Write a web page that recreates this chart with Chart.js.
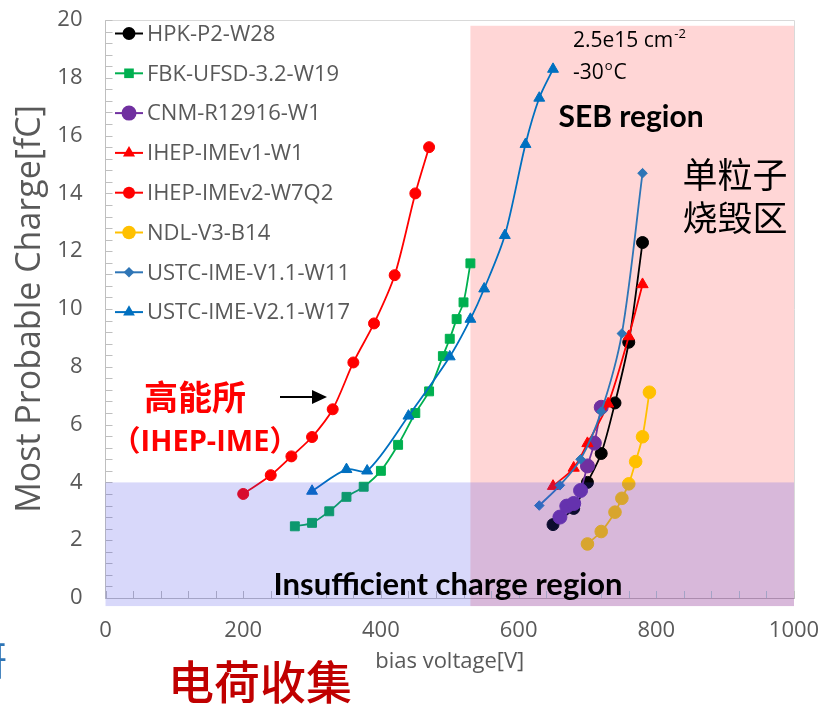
<!DOCTYPE html>
<html>
<head>
<meta charset="utf-8">
<script src="https://cdn.jsdelivr.net/npm/chart.js@4.4.1/dist/chart.umd.min.js"></script>
<style>
  html, body { margin: 0; padding: 0; background: #fff; }
  canvas { display: block; }
</style>
</head>
<body>
<canvas id="chargeChart" width="825" height="705"></canvas>
<script>
// bias voltage [V] / most probable charge [fC]
const hpkV = [650, 680, 700, 720, 740, 760, 780];
const hpkQ = [2.54, 3.1, 4.0, 5.0, 6.75, 8.85, 12.3];

const fbkV = [275, 300, 325, 350, 375, 400, 425, 450, 470, 490, 500, 510, 520, 530];
const fbkQ = [2.48, 2.6, 3.0, 3.5, 3.85, 4.4, 5.3, 6.4, 7.15, 8.37, 8.97, 9.65, 10.23, 11.58];

const cnmV = [660, 670, 680, 690, 700, 710, 720];
const cnmQ = [2.8, 3.18, 3.27, 3.72, 4.57, 5.36, 6.6];

const ihepV1V = [650, 680, 700, 730, 760, 780];
const ihepV1Q = [3.87, 4.5, 5.35, 6.72, 9.05, 10.85];

const ihepV2V = [200, 240, 270, 300, 330, 360, 390, 420, 450, 470];
const ihepV2Q = [3.6, 4.25, 4.9, 5.57, 6.53, 8.15, 9.5, 11.17, 14.0, 15.6];

const ndlV = [700, 720, 740, 750, 760, 770, 780, 790];
const ndlQ = [1.87, 2.3, 2.97, 3.45, 3.95, 4.72, 5.58, 7.12];

const ustc11V = [630, 660, 690, 720, 750, 780];
const ustc11Q = [3.2, 3.9, 4.8, 6.45, 9.15, 14.7];

const ustc21V = [300, 350, 380, 440, 500, 530, 550, 580, 610, 630, 650];
const ustc21Q = [3.7, 4.45, 4.4, 6.3, 8.35, 9.65, 10.7, 12.55, 15.7, 17.3, 18.3];

const seriesNames = ['HPK-P2-W28', 'FBK-UFSD-3.2-W19', 'CNM-R12916-W1', 'IHEP-IMEv1-W1',
                     'IHEP-IMEv2-W7Q2', 'NDL-V3-B14', 'USTC-IME-V1.1-W11', 'USTC-IME-V2.1-W17'];
const seriesX = [hpkV, fbkV, cnmV, ihepV1V, ihepV2V, ndlV, ustc11V, ustc21V];
const seriesY = [hpkQ, fbkQ, cnmQ, ihepV1Q, ihepV2Q, ndlQ, ustc11Q, ustc21Q];

const xTicks = [0, 200, 400, 600, 800, 1000];
const yTicks = [0, 2, 4, 6, 8, 10, 12, 14, 16, 18, 20];

const sebStart = 530;       // SEB region starts here [V]
const lowChargeLimit = 4;   // below this: insufficient charge [fC]

// styles
const colors = ['#000000', '#00b050', '#7030a0', '#ff0000', '#ff0000', '#ffc000', '#2e75b6', '#0070c0'];
const markers = ['circle', 'rect', 'circle', 'triangle', 'circle', 'circle', 'rectRot', 'triangle'];
const markerSize = [6, 6.3, 7, 6.5, 5.5, 6.3, 4.8, 6.3];
const gray = '#595959';
const uiFont = "'Open Sans', sans-serif";
const cjkFont = "'Noto Sans CJK SC', sans-serif";

Chart.defaults.font.family = uiFont;

const datasets = seriesNames.map((name, i) => ({
    label: name,
    data: seriesX[i].map((v, k) => ({ x: v, y: seriesY[i][k] })),
    showLine: true,
    borderColor: colors[i],
    backgroundColor: colors[i],
    borderWidth: 1.8,
    pointStyle: markers[i],
    pointRadius: markerSize[i],
    pointBorderWidth: 1,
    tension: 0.3,
    order: seriesNames.length - i   // later series on top, like the original
}));

function drawMarker(ctx, style, x, y, r) {
    ctx.beginPath();
    if (style === 'circle') {
        ctx.arc(x, y, r, 0, Math.PI * 2);
    } else if (style === 'rect') {
        const s = r * Math.SQRT1_2;
        ctx.rect(x - s, y - s, 2 * s, 2 * s);
    } else if (style === 'rectRot') {
        ctx.moveTo(x, y - r); ctx.lineTo(x + r, y); ctx.lineTo(x, y + r); ctx.lineTo(x - r, y);
        ctx.closePath();
    } else if (style === 'triangle') {
        ctx.moveTo(x, y - r);
        ctx.lineTo(x + r * 0.866, y + r * 0.5);
        ctx.lineTo(x - r * 0.866, y + r * 0.5);
        ctx.closePath();
    }
    ctx.fill();
}

function centerText(ctx, txt, x, y, font, color) {
    ctx.font = font;
    ctx.fillStyle = color;
    ctx.textAlign = 'center';
    ctx.textBaseline = 'middle';
    ctx.fillText(txt, x, y);
}

const extras = {
    id: 'extras',
    beforeDatasetsDraw(chart) {
        const { ctx, scales: { x, y } } = chart;
        ctx.save();
        // SEB region (under the data)
        const x0 = x.getPixelForValue(sebStart), x1 = x.getPixelForValue(1000);
        const yt = y.getPixelForValue(19.8), yb = y.getPixelForValue(-0.28);
        ctx.fillStyle = 'rgba(255,0,0,0.16)';
        ctx.fillRect(x0, yt, x1 - x0, yb - yt);
        // frame top/right
        ctx.strokeStyle = '#d9d9d9';
        ctx.lineWidth = 1;
        ctx.beginPath();
        ctx.moveTo(x.left, y.top + 0.5);
        ctx.lineTo(x.right + 0.5, y.top + 0.5);
        ctx.lineTo(x.right + 0.5, y.bottom);
        ctx.stroke();
        ctx.restore();
    },
    afterDatasetsDraw(chart) {
        const { ctx, scales: { x, y } } = chart;
        ctx.save();
        // inward minor/major ticks
        ctx.strokeStyle = '#bfbfbf';
        ctx.lineWidth = 1;
        ctx.beginPath();
        for (let v = 0; v <= 20.001; v += 0.4) {
            const py = Math.round(y.getPixelForValue(v)) + 0.5;
            ctx.moveTo(x.left, py); ctx.lineTo(x.left + 7, py);
        }
        for (let v = 0; v <= 1000.1; v += 40) {
            const px = Math.round(x.getPixelForValue(v)) + 0.5;
            ctx.moveTo(px, y.bottom); ctx.lineTo(px, y.bottom - 7);
        }
        ctx.stroke();

        // insufficient charge region (over the data)
        const xl = x.getPixelForValue(0), xr = x.getPixelForValue(1000);
        const yt = y.getPixelForValue(lowChargeLimit), yb = y.getPixelForValue(-0.28);
        ctx.fillStyle = 'rgba(60,60,230,0.2)';
        ctx.fillRect(xl, yt, xr - xl, yb - yt);

        // legend inside the plot
        ctx.font = '22px ' + uiFont;
        ctx.textAlign = 'left';
        ctx.textBaseline = 'middle';
        seriesNames.forEach((name, i) => {
            const ly = 33.5 + i * 39.8;
            ctx.strokeStyle = colors[i];
            ctx.lineWidth = 2;
            ctx.beginPath();
            ctx.moveTo(115, ly); ctx.lineTo(143, ly);
            ctx.stroke();
            ctx.fillStyle = colors[i];
            drawMarker(ctx, markers[i], 129, ly, markerSize[i] + 0.5);
            ctx.fillStyle = gray;
            ctx.fillText(name, 147, ly + 1);
        });

        // annotations
        ctx.textAlign = 'left';
        ctx.fillStyle = '#000';
        ctx.font = '21px ' + uiFont;
        ctx.fillText('2.5e15 cm', 573, 41);
        let w = ctx.measureText('2.5e15 cm').width;
        ctx.font = '13px ' + uiFont;
        ctx.fillText('-2', 573 + w + 1, 34);
        ctx.font = '21px ' + uiFont;
        ctx.fillText('-30', 573, 73);
        w = ctx.measureText('-30').width;
        ctx.font = '13px ' + uiFont;
        ctx.fillText('o', 573 + w + 1, 66);
        const w2 = ctx.measureText('o').width;
        ctx.font = '21px ' + uiFont;
        ctx.fillText('C', 573 + w + w2 + 2, 73);

        centerText(ctx, 'SEB region', 631, 117, "bold 30px Lato, sans-serif", '#000');
        centerText(ctx, '单粒子', 735, 175, '35px ' + cjkFont, '#000');
        centerText(ctx, '烧毁区', 735, 218, '35px ' + cjkFont, '#000');
        centerText(ctx, 'Insufficient charge region', 448, 585, "bold 31px Lato, sans-serif", '#000');

        centerText(ctx, '高能所', 195, 397, 'bold 34px ' + cjkFont, '#ff0000');
        centerText(ctx, '（IHEP-IME）', 205, 443, "bold 29px 'Open Sans', 'Noto Sans CJK SC', sans-serif", '#ff0000');

        // arrow
        ctx.strokeStyle = '#000';
        ctx.fillStyle = '#000';
        ctx.lineWidth = 2;
        ctx.beginPath();
        ctx.moveTo(280, 397); ctx.lineTo(315, 397);
        ctx.stroke();
        ctx.beginPath();
        ctx.moveTo(327, 397); ctx.lineTo(312, 390); ctx.lineTo(312, 404);
        ctx.closePath();
        ctx.fill();

        centerText(ctx, '电荷收集', 260, 682, '500 46px ' + cjkFont, '#c00000');

        ctx.textAlign = 'right';
        ctx.textBaseline = 'middle';
        ctx.fillStyle = '#2e75b6';
        ctx.font = '40px ' + cjkFont;
        ctx.fillText('研', 7, 660);
        ctx.restore();
    }
};

new Chart(document.getElementById('chargeChart').getContext('2d'), {
    type: 'scatter',
    data: { datasets },
    options: {
        responsive: false,
        animation: false,
        layout: { padding: { top: 20, right: 31, bottom: 0, left: 0 } },
        plugins: {
            legend: { display: false },
            tooltip: { enabled: false }
        },
        scales: {
            x: {
                type: 'linear',
                min: xTicks[0],
                max: xTicks[xTicks.length - 1],
                afterBuildTicks: s => { s.ticks = xTicks.map(v => ({ value: v })); },
                afterFit: s => { s.height = 107; s.paddingLeft = 0; s.paddingRight = 0; },
                ticks: { color: gray, font: { size: 22 }, padding: 20, maxRotation: 0,
                         callback: v => String(v) },
                grid: { drawOnChartArea: false, drawTicks: false },
                border: { color: '#bfbfbf', width: 1 },
                title: {
                    display: true,
                    text: 'bias voltage[V]',
                    color: gray,
                    font: { size: 22 },
                    padding: { top: 0, bottom: 30 }
                }
            },
            y: {
                min: yTicks[0],
                max: yTicks[yTicks.length - 1],
                afterBuildTicks: s => { s.ticks = yTicks.map(v => ({ value: v })); },
                afterFit: s => { s.width = 105.5; s.paddingTop = 0; s.paddingBottom = 0; },
                ticks: { color: gray, font: { size: 22 }, padding: 23, callback: v => String(v) },
                grid: { drawOnChartArea: false, drawTicks: false },
                border: { color: '#bfbfbf', width: 1 },
                title: {
                    display: true,
                    text: 'Most Probable Charge[fC]',
                    color: gray,
                    font: { size: 34 },
                    padding: { top: 10, bottom: 0 }
                }
            }
        }
    },
    plugins: [extras]
});
</script>
</body>
</html>
